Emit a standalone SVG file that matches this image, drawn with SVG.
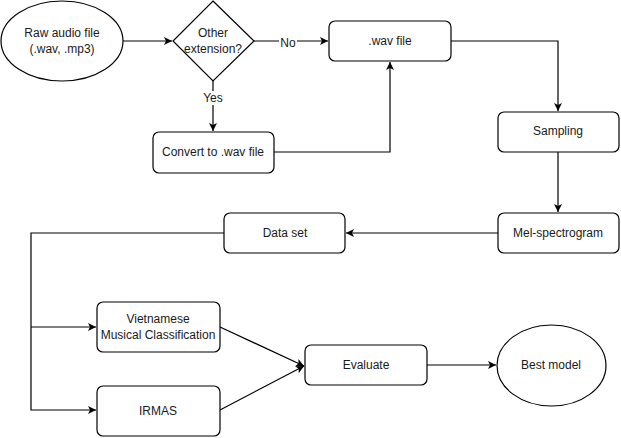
<svg xmlns="http://www.w3.org/2000/svg" width="621" height="438" viewBox="0 0 621 438">
<defs>
<style>
.n{fill:#fff;stroke:#000;stroke-width:1.2}
.t{font-family:"Liberation Sans",Arial,sans-serif;font-size:12px;fill:#1a1a1a;text-anchor:middle}
.e{fill:none;stroke:#000;stroke-width:1.2}
.lb{fill:#fff}
</style>
<marker id="ar" markerWidth="10" markerHeight="10" refX="8" refY="4" orient="auto" markerUnits="userSpaceOnUse">
<path d="M0,0 L8,4 L0,8 L2,4 Z" fill="#000"/>
</marker>
</defs>
<rect width="621" height="438" fill="#fff"/>
<g id="connectors">
<path class="e" d="M123,41 H172" marker-end="url(#ar)"/>
<path class="e" d="M254,41 H328" marker-end="url(#ar)"/>
<path class="e" d="M213,81 V131" marker-end="url(#ar)"/>
<path class="e" d="M274,152 H390 V62" marker-end="url(#ar)"/>
<path class="e" d="M451,41 H558 V111" marker-end="url(#ar)"/>
<path class="e" d="M558,152 V212" marker-end="url(#ar)"/>
<path class="e" d="M498,233 H346" marker-end="url(#ar)"/>
<path class="e" d="M224,233 H31 V410 H96" marker-end="url(#ar)"/>
<path class="e" d="M31,327 H96" marker-end="url(#ar)"/>
<path class="e" d="M220,327 L304,366" marker-end="url(#ar)"/>
<path class="e" d="M220,410 L304,366" marker-end="url(#ar)"/>
<path class="e" d="M427,365 H496" marker-end="url(#ar)"/>
<rect class="lb" x="279" y="36" width="18" height="14"/>
<text class="t" x="288" y="47">No</text>
<rect class="lb" x="202" y="91" width="22" height="14"/>
<text class="t" x="213" y="102">Yes</text>
</g>
<g id="raw">
<ellipse class="n" cx="62" cy="41" rx="61" ry="40"/>
<text class="t" x="62" y="37">Raw audio file</text>
<text class="t" x="62" y="53">(.wav, .mp3)</text>
</g>
<g id="decision">
<polygon class="n" points="213,1 254,41 213,81 173,41"/>
<text class="t" x="213" y="37">Other</text>
<text class="t" x="213" y="53">extension?</text>
</g>
<g id="wav">
<rect class="n" x="329" y="21" width="122" height="40" rx="6"/>
<text class="t" x="390" y="45">.wav file</text>
</g>
<g id="convert">
<rect class="n" x="153" y="132" width="121" height="41" rx="6"/>
<text class="t" x="213" y="156">Convert to .wav file</text>
</g>
<g id="sampling">
<rect class="n" x="498" y="112" width="121" height="40" rx="6"/>
<text class="t" x="558" y="135">Sampling</text>
</g>
<g id="mel">
<rect class="n" x="498" y="213" width="121" height="40" rx="6"/>
<text class="t" x="558" y="237">Mel-spectrogram</text>
</g>
<g id="dataset">
<rect class="n" x="224" y="213" width="121" height="40" rx="6"/>
<text class="t" x="285" y="237">Data set</text>
</g>
<g id="vietnamese">
<rect class="n" x="97" y="302" width="123" height="50" rx="6"/>
<text class="t" x="158" y="323">Vietnamese</text>
<text class="t" x="158" y="339">Musical Classification</text>
</g>
<g id="irmas">
<rect class="n" x="97" y="386" width="123" height="50" rx="6"/>
<text class="t" x="158" y="415">IRMAS</text>
</g>
<g id="evaluate">
<rect class="n" x="305" y="345" width="122" height="40" rx="6"/>
<text class="t" x="366" y="369">Evaluate</text>
</g>
<g id="best">
<ellipse class="n" cx="551.5" cy="365.5" rx="54.5" ry="40.5"/>
<text class="t" x="551" y="369">Best model</text>
</g>
</svg>
